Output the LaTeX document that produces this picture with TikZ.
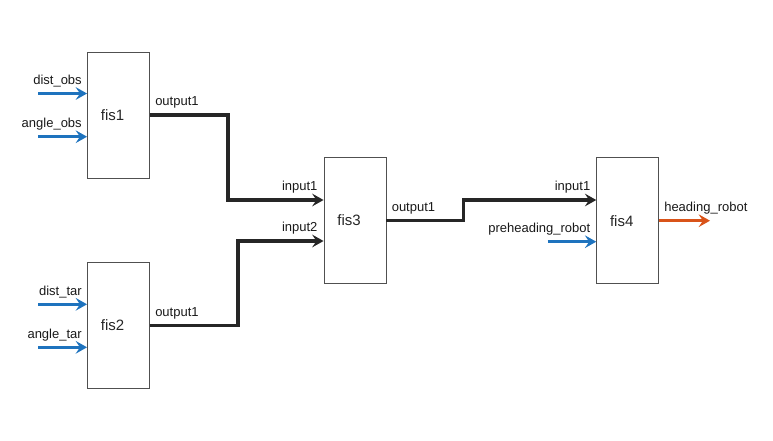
\documentclass[tikz,border=0pt]{standalone}
\usepackage{fontspec}
\setmainfont{Liberation Sans}
\usetikzlibrary{arrows.meta,calc}
\definecolor{inblue}{HTML}{1E73BE}
\definecolor{outorange}{HTML}{D95319}
\definecolor{linedark}{HTML}{262626}
\definecolor{boxedge}{HTML}{505050}
\tikzset{
  fisbox/.style={draw=boxedge, line width=0.7pt, fill=white, minimum width=46.5pt, minimum height=94.5pt, inner sep=0pt},
  boxtext/.style={font=\fontsize{11.25pt}{13pt}\selectfont, text=black!85, inner sep=0pt},
  lbl/.style={font=\fontsize{9.75pt}{11pt}\selectfont, text=black!90, inner sep=0pt},
  tip/.style={-{Stealth[length=8.5pt, width=9.5pt, inset=3.2pt]}},
  inarrow/.style={tip, draw=inblue, line width=2.4pt},
  outarrow/.style={tip, draw=outorange, line width=2.4pt},
  connarrow/.style={tip, draw=linedark, line width=2.4pt}
}
\begin{document}
\begin{tikzpicture}[x=0.75pt, y=-0.75pt]
\useasboundingbox (0,0) rectangle (773,440);
% boxes
\node[fisbox, label={[boxtext, xshift=-4.5pt]center:fis1}] (fis1) at (118.5,115) {};
\node[fisbox, label={[boxtext, xshift=-4.5pt]center:fis2}] (fis2) at (118.5,325.5) {};
\node[fisbox, label={[boxtext, xshift=-4.5pt]center:fis3}] (fis3) at (355,220.3) {};
\node[fisbox, label={[boxtext, xshift=-4.5pt]center:fis4}] (fis4) at (627.7,220.7) {};
% input coordinates
\coordinate (a1) at (38,93.5);
\coordinate (a2) at (38,136.7);
\coordinate (a3) at (38,304.3);
\coordinate (a4) at (38,347.3);
\coordinate (a5) at (547.5,241.7);
\coordinate (f3in1) at ($(fis3.west)+(0,-20.3)$);
\coordinate (f3in2) at ($(fis3.west)+(0,20.7)$);
\coordinate (f4in1) at ($(fis4.west)+(0,-20.7)$);
\coordinate (hout) at (710,220.7);
% blue inputs
\draw[inarrow] (a1) -- (a1 -| fis1.west);
\draw[inarrow] (a2) -- (a2 -| fis1.west);
\draw[inarrow] (a3) -- (a3 -| fis2.west);
\draw[inarrow] (a4) -- (a4 -| fis2.west);
\draw[inarrow] (a5) -- (a5 -| fis4.west);
% connectors
\draw[connarrow, line join=miter] (fis1.east) -- ++(78,0) |- (f3in1);
\draw[connarrow, line join=miter] (fis2.east) -- ++(88,0) |- (f3in2);
\draw[connarrow, line join=miter] (fis3.east) -- ++(77,0) |- (f4in1);
\draw[outarrow] (fis4.east) -- (hout);
% labels
\node[lbl, anchor=base east] (l1) at (82,84.3) {dist\_obs};
\node[lbl, anchor=base east] (l2) at (82,127.5) {angle\_obs};
\node[lbl, anchor=base east] (l3) at (82,295.2) {dist\_tar};
\node[lbl, anchor=base east] (l4) at (82,338.2) {angle\_tar};
\node[lbl, anchor=base west] (l5) at (155,105.7) {output1};
\node[lbl, anchor=base west] (l6) at (155,316) {output1};
\node[lbl, anchor=base east] (l7) at (317.7,190) {input1};
\node[lbl, anchor=base east] (l8) at (317.7,231.5) {input2};
\node[lbl, anchor=base west] (l9) at (391.5,211) {output1};
\node[lbl, anchor=base east] (l10) at (590.5,190) {input1};
\node[lbl, anchor=base east] (l11) at (590.5,232) {preheading\_robot};
\node[lbl, anchor=base west] (l12) at (664,211) {heading\_robot};
\end{tikzpicture}
\end{document}
